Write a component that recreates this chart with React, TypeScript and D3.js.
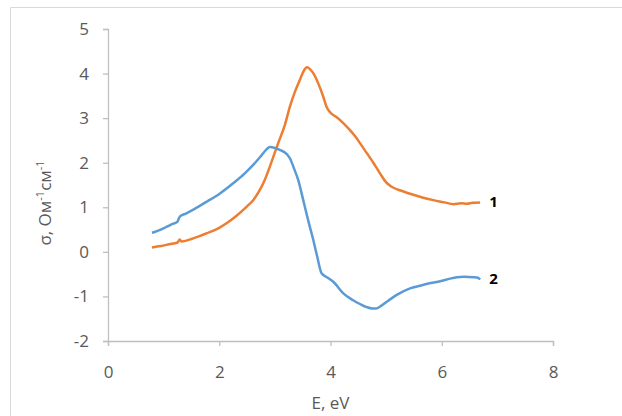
import { useEffect, useRef } from 'react';
import * as d3 from 'd3';

// curve 1 (orange) — E, eV and sigma
const energy1 = [0.79, 0.95, 1.1, 1.25, 1.29, 1.32, 1.5, 1.78, 2.0, 2.13, 2.3, 2.49, 2.61, 2.73, 2.82, 2.94, 3.06, 3.18, 3.27, 3.36, 3.45, 3.51, 3.58, 3.63, 3.69, 3.78, 3.87, 3.93, 4.0, 4.1, 4.23, 4.35, 4.45, 4.53, 4.65, 4.77, 4.89, 5.0, 5.1, 5.3, 5.49, 5.65, 5.85, 6.05, 6.21, 6.35, 6.45, 6.55, 6.69];
const sigma1 = [0.1, 0.13, 0.17, 0.21, 0.28, 0.23, 0.29, 0.42, 0.54, 0.64, 0.8, 1.01, 1.16, 1.39, 1.62, 2.02, 2.44, 2.85, 3.26, 3.59, 3.86, 4.04, 4.14, 4.1, 4.01, 3.78, 3.48, 3.25, 3.12, 3.03, 2.89, 2.73, 2.58, 2.44, 2.22, 2.0, 1.76, 1.56, 1.46, 1.36, 1.28, 1.22, 1.16, 1.11, 1.07, 1.09, 1.08, 1.1, 1.11];

// curve 2 (blue)
const energy2 = [0.79, 0.85, 0.95, 1.05, 1.15, 1.25, 1.27, 1.3, 1.4, 1.55, 1.78, 2.0, 2.25, 2.45, 2.61, 2.75, 2.85, 2.91, 3.0, 3.1, 3.18, 3.27, 3.35, 3.42, 3.51, 3.6, 3.69, 3.76, 3.84, 3.95, 4.05, 4.23, 4.4, 4.53, 4.65, 4.75, 4.82, 4.9, 5.01, 5.2, 5.43, 5.61, 5.8, 5.97, 6.15, 6.27, 6.4, 6.57, 6.65, 6.69];
const sigma2 = [0.43, 0.45, 0.5, 0.56, 0.62, 0.68, 0.74, 0.8, 0.86, 0.96, 1.13, 1.3, 1.54, 1.75, 1.95, 2.15, 2.3, 2.35, 2.33, 2.28, 2.23, 2.1, 1.85, 1.61, 1.16, 0.7, 0.27, -0.1, -0.48, -0.58, -0.67, -0.93, -1.08, -1.17, -1.24, -1.27, -1.27, -1.22, -1.12, -0.96, -0.82, -0.76, -0.7, -0.66, -0.6, -0.57, -0.56, -0.57, -0.58, -0.62];

const xTicks = [0, 2, 4, 6, 8];
const yTicks = [-2, -1, 0, 1, 2, 3, 4, 5];
const seriesNames = ['1', '2'];
const seriesColors = ['#ED7D31', '#5B9BD5'];

const width = 622;
const height = 416;
const font = '"Open Sans", sans-serif';

const App = () => {
  const svgRef = useRef<SVGSVGElement>(null);

  useEffect(() => {
    const svg = d3.select(svgRef.current);
    svg.selectAll('*').remove();

    const x = d3.scaleLinear().domain([0, 8]).range([108, 553]);
    const y = d3.scaleLinear().domain([-2, 5]).range([341, 29]);

    // chart frame (runs off the right and bottom edges)
    svg.append('path')
      .attr('d', `M10.5,${height + 5}V7.5H${width + 5}`)
      .attr('fill', 'none')
      .attr('stroke', '#D9D9D9');

    const xAxis = svg.append('g')
      .attr('transform', `translate(0,${y(-2)})`)
      .call(d3.axisBottom(x).tickValues(xTicks).tickSize(5).tickPadding(20).tickFormat(d3.format('d')));
    const yAxis = svg.append('g')
      .attr('transform', `translate(${x(0)},0)`)
      .call(d3.axisLeft(y).tickValues(yTicks).tickSize(5).tickPadding(14).tickFormat(d3.format('d')));

    [xAxis, yAxis].forEach(ax => {
      ax.select('.domain').attr('stroke', '#BFBFBF').attr('stroke-width', 1.3);
      ax.selectAll('.tick line').attr('stroke', '#BFBFBF').attr('stroke-width', 1.3);
      ax.selectAll('.tick text')
        .attr('fill', '#595959')
        .style('font-family', font)
        .style('font-size', '17px');
    });
    // d3 uses a minus sign; the picture uses a hyphen
    yAxis.selectAll('.tick text').text((d: any) => String(d));

    const series = [
      energy1.map((e, i) => [e, sigma1[i]] as [number, number]),
      energy2.map((e, i) => [e, sigma2[i]] as [number, number]),
    ];

    const line = d3.line<[number, number]>()
      .x(d => x(d[0]))
      .y(d => y(d[1]))
      .curve(d3.curveMonotoneX);

    series.forEach((pts, i) => {
      svg.append('path')
        .datum(pts)
        .attr('d', line)
        .attr('fill', 'none')
        .attr('stroke', seriesColors[i])
        .attr('stroke-width', 2.5)
        .attr('stroke-linejoin', 'round');

      const last = pts[pts.length - 1];
      svg.append('text')
        .attr('x', x(last[0]) + 9)
        .attr('y', y(last[1]) + 5)
        .style('font-family', font)
        .style('font-size', '15px')
        .style('font-weight', 'bold')
        .attr('fill', '#000')
        .text(seriesNames[i]);
    });

    // axis titles
    svg.append('text')
      .attr('x', x(4))
      .attr('y', 409)
      .attr('text-anchor', 'middle')
      .attr('fill', '#595959')
      .style('font-family', font)
      .style('font-size', '17px')
      .text('E, eV');

    const yTitle = svg.append('text')
      .attr('transform', `translate(51,${(y(-2) + y(5)) / 2 + 18}) rotate(-90)`)
      .attr('text-anchor', 'middle')
      .attr('fill', '#595959')
      .style('font-family', font)
      .style('font-size', '17px');
    yTitle.append('tspan').text('σ, Ом');
    yTitle.append('tspan').attr('dy', -7).style('font-size', '11px').text('-1');
    yTitle.append('tspan').attr('dy', 7).text('см');
    yTitle.append('tspan').attr('dy', -7).style('font-size', '11px').text('-1');
  }, []);

  return (
    <svg
      ref={svgRef}
      width={width}
      height={height}
      style={{ position: 'absolute', left: 0, top: 0, background: 'white' }}
    />
  );
};

export default App;
